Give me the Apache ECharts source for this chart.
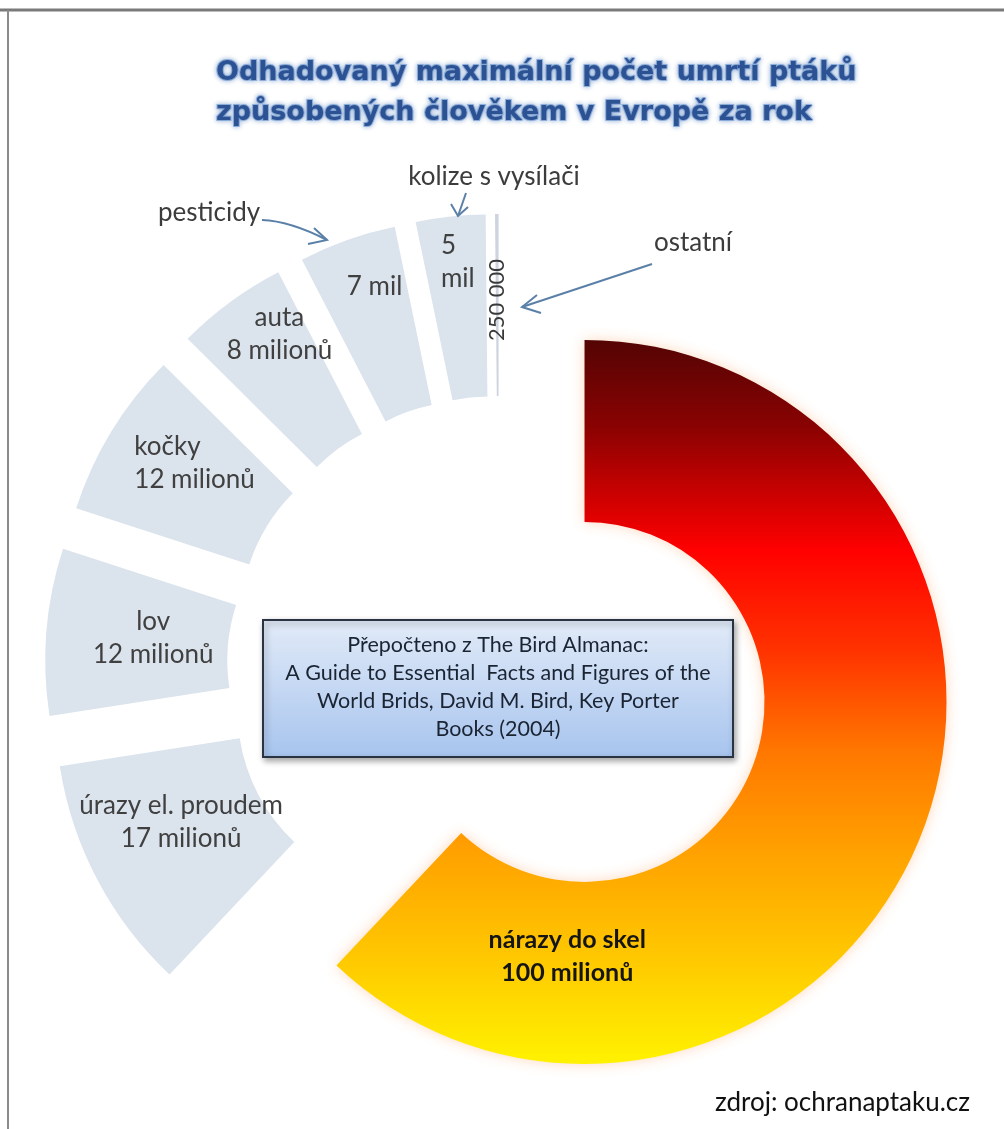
<!DOCTYPE html>
<html>
<head>
<meta charset="utf-8">
<script src="https://cdn.jsdelivr.net/npm/echarts@6/dist/echarts.min.js"></script>
<style>
html,body{margin:0;padding:0;background:#fff;}
#c{width:1004px;height:1129px;}
</style>
</head>
<body>
<div id="c"></div>
<script>
// ---- data ----
const categories = ['nárazy do skel', 'úrazy el. proudem', 'lov', 'kočky', 'auta', 'pesticidy', 'kolize s vysílači', 'ostatní'];
const values = [100, 17, 12, 12, 8, 7, 5, 0.25]; // millions of birds per year
const labelTexts = ['nárazy do skel\n100 milionů', 'úrazy el. proudem\n17 milionů', 'lov\n12 milionů', 'kočky\n12 milionů', 'auta\n8 milionů', '7 mil', '5\nmil', '250 000'];
const titleLines = ['Odhadovaný maximální počet umrtí ptáků', 'způsobených člověkem v Evropě za rok'];
const sourceLines = ['Přepočteno z The Bird Almanac:', 'A Guide to Essential  Facts and Figures of the', 'World Brids, David M. Bird, Key Porter', 'Books (2004)'];
const creditText = 'zdroj: ochranaptaku.cz';

// ---- layout / style ----
const labelShift = [[-272, 154], [6, -16], [19, -1], [8, -14], [-3, -39], [-2, -36], [-2, -42], [2, 0]];
const leftAligned = [false, false, false, true, false, false, true, false];
const grayColor = '#dbe3ed';
const labelColor = '#404040';
const redGradient = new echarts.graphic.LinearGradient(0, 0, 0, 1, [
  {offset: 0, color: '#540404'},
  {offset: 0.12, color: '#8a0202'},
  {offset: 0.29, color: '#ff0000'},
  {offset: 0.43, color: '#ff3300'},
  {offset: 0.57, color: '#ff7800'},
  {offset: 0.71, color: '#ffa200'},
  {offset: 0.86, color: '#ffca00'},
  {offset: 1, color: '#fff200'}
]);

const chart = echarts.init(document.getElementById('c'), null, {renderer: 'canvas'});

const pieData = categories.map((name, i) => {
  const item = {
    name: name,
    value: values[i],
    selected: true,
    itemStyle: {color: i === 0 ? redGradient : (i === 7 ? '#cdd4dd' : grayColor)},
    label: {}
  };
  if (i === 0) {
    item.itemStyle.shadowBlur = 14;
    item.itemStyle.shadowColor = 'rgba(255,170,110,0.45)';
    item.label.fontWeight = 'bold';
    item.label.color = '#151515';
    item.label.fontSize = 25;
  }
  if (i === 7) {
    item.label.rotate = 90;
    item.label.fontSize = 22;
    item.label.color = '#3a3a3a';
  }
  return item;
});

function formatLabel(p) {
  const t = labelTexts[p.dataIndex];
  if (leftAligned[p.dataIndex]) {
    return t.split('\n').map(s => '{l|' + s + '}').join('\n');
  }
  return t;
}

const arrowColor = '#5b80a8';
function arrow(points, tip, b1, b2) {
  return [
    {type: 'polyline', shape: {points: points}, style: {stroke: arrowColor, lineWidth: 2, fill: null}, z: 20},
    {type: 'polyline', shape: {points: [b1, tip, b2]}, style: {stroke: arrowColor, lineWidth: 2, fill: null}, z: 20}
  ];
}

const annFont = {fontFamily: 'Lato', fontSize: 26, fill: '#3c3c3c'};

chart.setOption({
  animation: false,
  backgroundColor: '#ffffff',
  title: {
    text: titleLines.join('\n'),
    left: 211,
    top: 48,
    textStyle: {
      fontFamily: 'DejaVu Sans',
      fontWeight: 'bold',
      fontSize: 27,
      lineHeight: 40,
      color: '#2c5294',
      textBorderColor: 'rgba(140,175,220,0.9)',
      textBorderWidth: 2,
      textShadowColor: 'rgba(90,130,190,0.55)',
      textShadowBlur: 5
    }
  },
  series: [{
    type: 'pie',
    center: [499, 668],
    radius: [180, 362],
    startAngle: 90,
    clockwise: true,
    selectedMode: 'multiple',
    selectedOffset: 92,
    avoidLabelOverlap: false,
    minAngle: 0,
    emphasis: {disabled: true},
    itemStyle: {borderWidth: 0},
    label: {
      show: true,
      position: 'inside',
      formatter: formatLabel,
      fontFamily: 'Lato',
      fontSize: 26,
      lineHeight: 33,
      color: labelColor,
      rich: {
        l: {align: 'left', fontFamily: 'Lato', fontSize: 26, lineHeight: 33, color: labelColor}
      }
    },
    labelLine: {show: false},
    labelLayout: p => ({dx: labelShift[p.dataIndex][0], dy: labelShift[p.dataIndex][1]}),
    data: pieData
  }],
  graphic: [
    // frame
    {type: 'line', shape: {x1: 0, y1: 10, x2: 1004, y2: 10}, style: {stroke: '#7a7a7a', lineWidth: 3}},
    {type: 'line', shape: {x1: 8, y1: 10, x2: 8, y2: 1129}, style: {stroke: '#8a8a8a', lineWidth: 2}},
    // annotations
    {type: 'text', x: 494, y: 177, style: Object.assign({text: 'kolize s vysílači', align: 'center', verticalAlign: 'middle'}, annFont), z: 20},
    {type: 'text', x: 209, y: 213, style: Object.assign({text: 'pesticidy', align: 'center', verticalAlign: 'middle'}, annFont), z: 20},
    {type: 'text', x: 693, y: 243, style: Object.assign({text: 'ostatní', align: 'center', verticalAlign: 'middle'}, annFont), z: 20},
    ...arrow([[466, 193], [458, 216]], [458, 216], [451, 204], [468, 207]),
    {type: 'bezierCurve', shape: {x1: 262, y1: 220, x2: 327, y2: 240, cpx1: 290, cpy1: 221}, style: {stroke: arrowColor, lineWidth: 2, fill: null}, z: 20},
    {type: 'polyline', shape: {points: [[308, 244], [327, 240], [314, 228]]}, style: {stroke: arrowColor, lineWidth: 2, fill: null}, z: 20},
    ...arrow([[652, 264], [522, 307]], [522, 307], [537, 295], [541, 313]),
    // source box
    {
      type: 'rect', shape: {x: 263, y: 620, width: 470, height: 137},
      style: {
        fill: new echarts.graphic.LinearGradient(0, 0, 0, 1, [{offset: 0, color: '#e2ebf8'}, {offset: 1, color: '#a7c4ee'}]),
        stroke: '#2a3342', lineWidth: 2,
        shadowBlur: 6, shadowOffsetX: 2, shadowOffsetY: 3, shadowColor: 'rgba(0,0,0,0.35)'
      },
      z: 30
    },
    {
      type: 'text', x: 498, y: 631,
      style: {text: sourceLines.join('\n'), align: 'center', verticalAlign: 'top', fontFamily: 'Lato', fontSize: 21.5, lineHeight: 28, fill: '#1a2433'},
      z: 31
    },
    {type: 'text', x: 970, y: 1103, style: {text: creditText, align: 'right', verticalAlign: 'middle', fontFamily: 'Lato', fontSize: 26, fill: '#111111'}, z: 20}
  ]
});
</script>
</body>
</html>
